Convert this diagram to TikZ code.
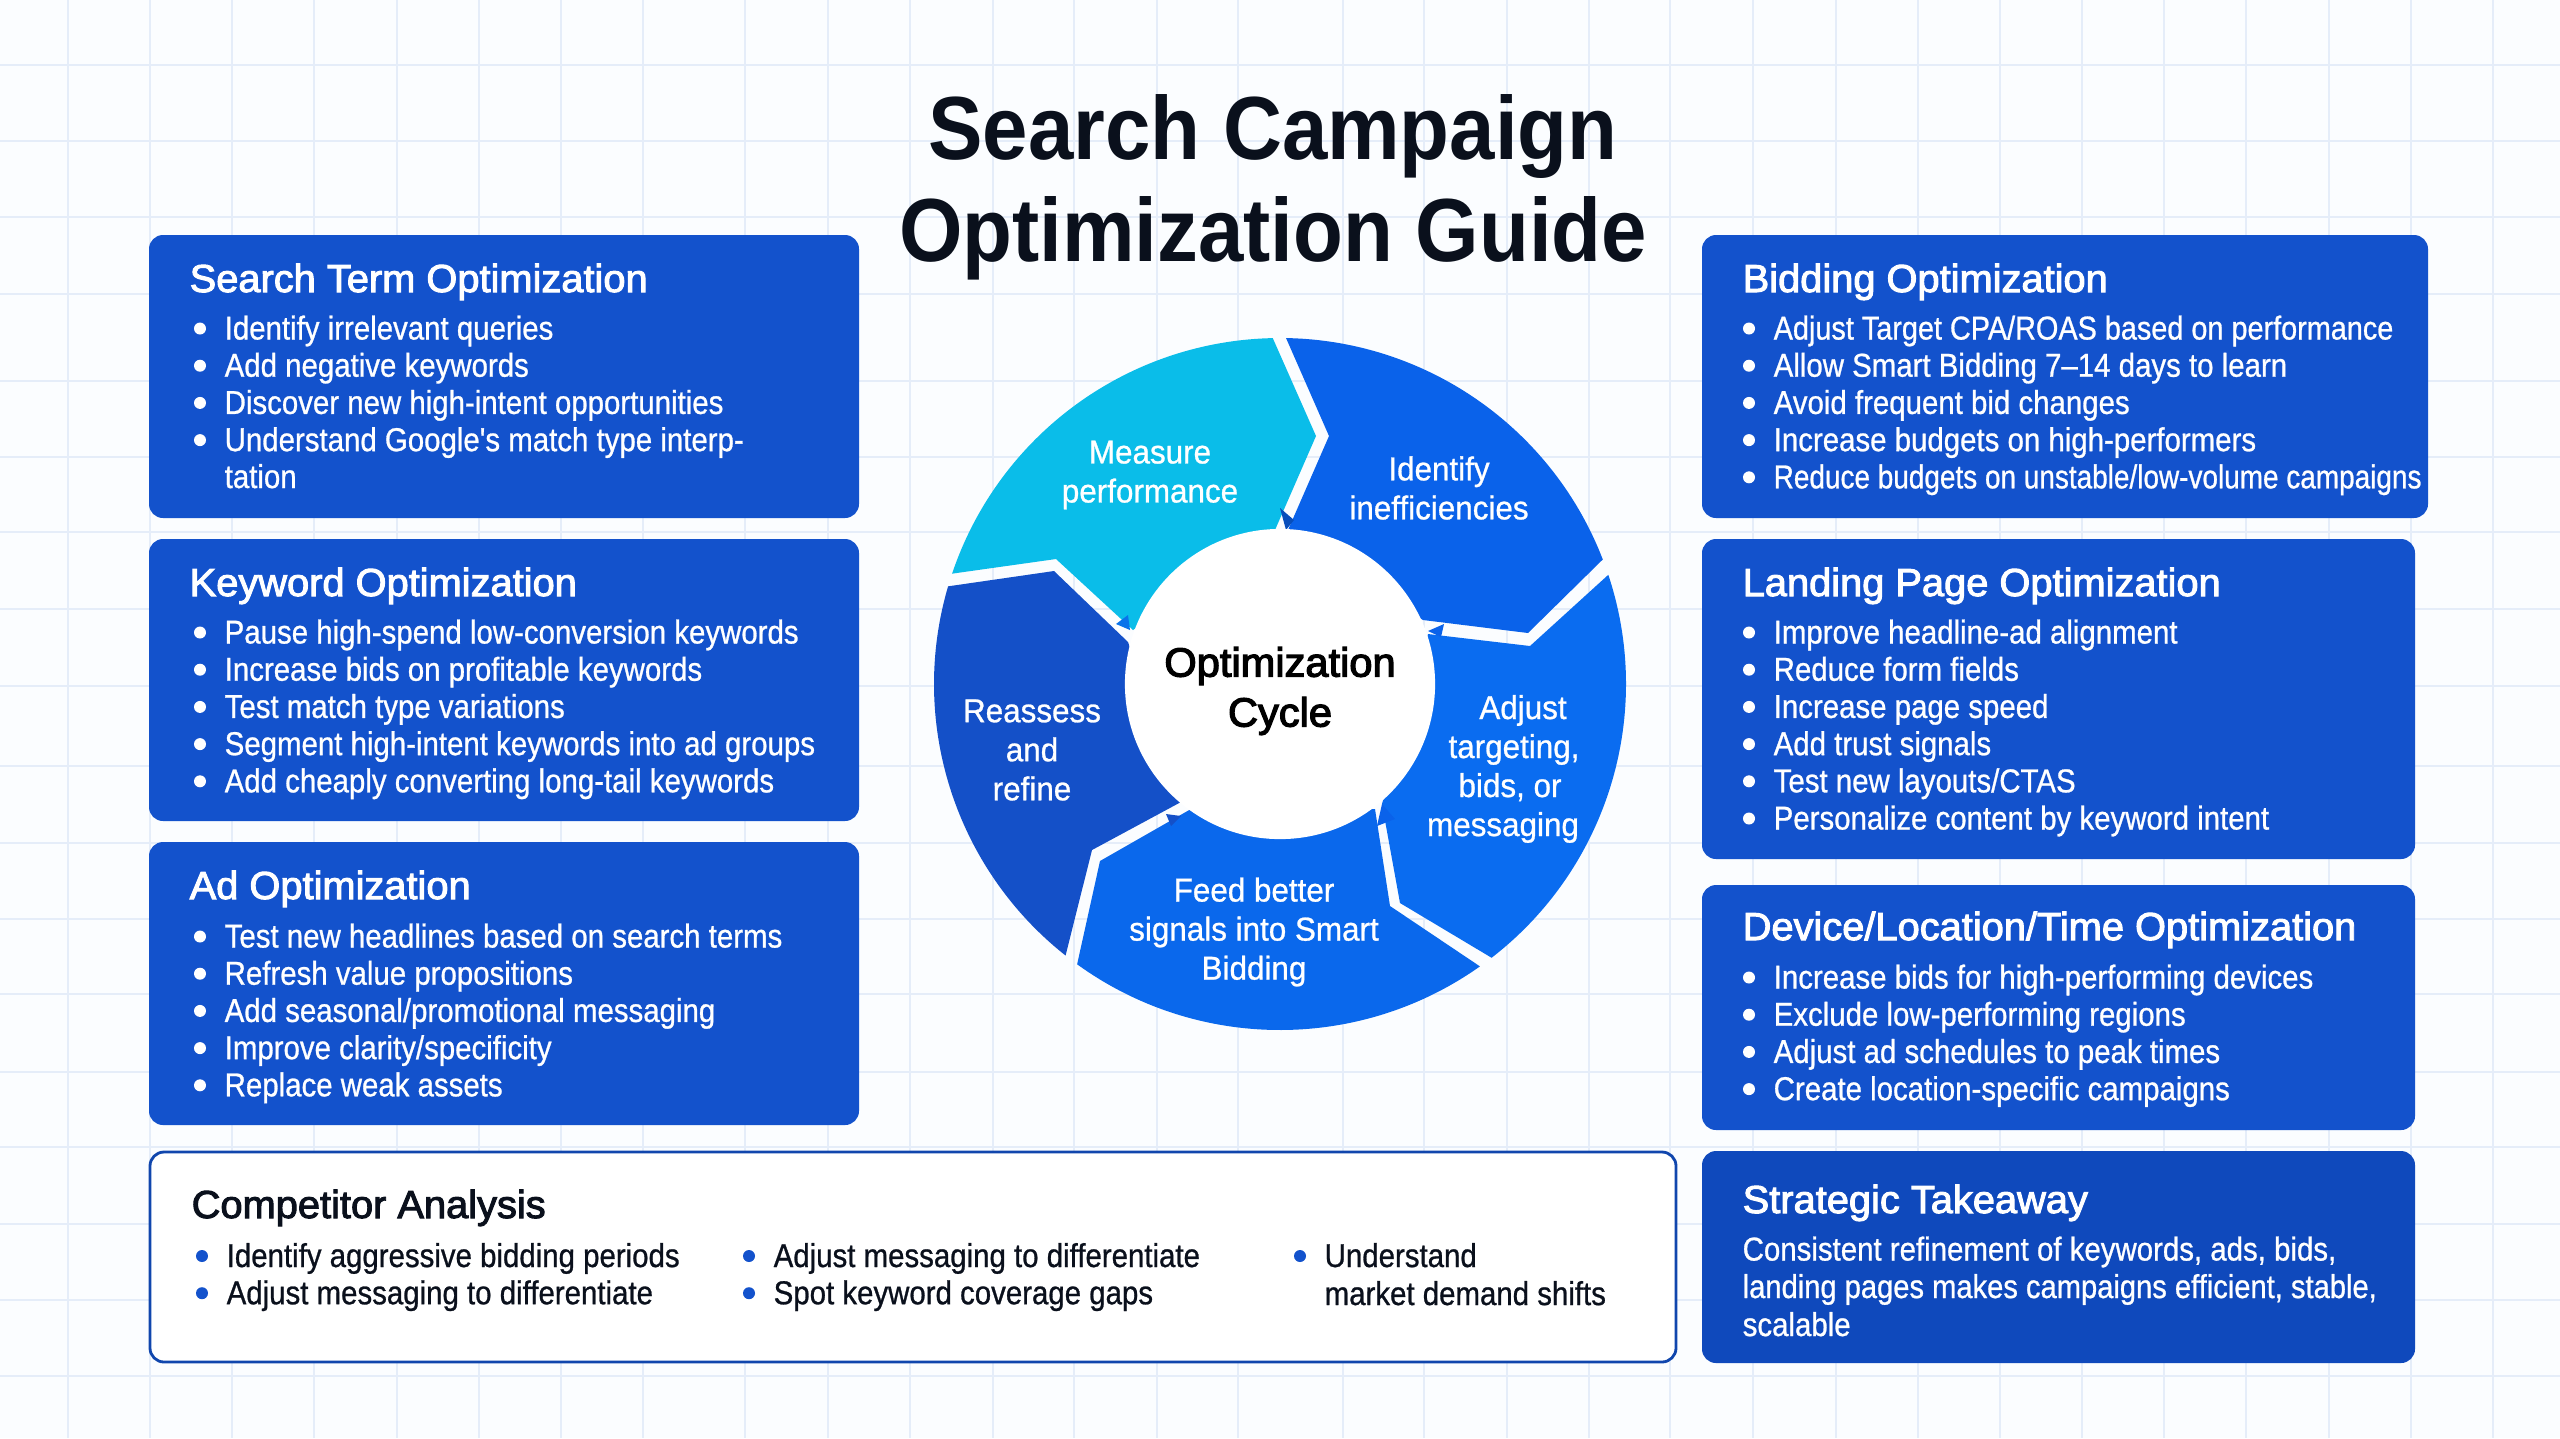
\documentclass[tikz,border=0pt]{standalone}
\usepackage{fontspec}
\usepackage{graphicx}
\setmainfont{Liberation Sans}
\newfontfamily\listfont[FakeStretch=0.89,FakeBold=0.8]{Liberation Sans}
\newfontfamily\wheelfont[FakeStretch=0.95,FakeBold=0.8]{Liberation Sans}
\newfontfamily\headfont[FakeStretch=1.02,FakeBold=2.5]{Liberation Sans}
\newfontfamily\hubfont[FakeStretch=1.02,FakeBold=3]{Liberation Sans}
\newfontfamily\titlefont[FakeStretch=0.91]{Liberation Sans Bold}
\usetikzlibrary{positioning}

\definecolor{pagebg}{HTML}{FBFDFF}
\definecolor{gridline}{HTML}{E5EDF9}
\definecolor{cardblue}{HTML}{1352CC}
\definecolor{takeblue}{HTML}{0F49BC}
\definecolor{inkdark}{HTML}{0A101C}
\definecolor{measurecol}{HTML}{0ABDE9}
\definecolor{identifycol}{HTML}{0A62EA}
\definecolor{adjustcol}{HTML}{0A6CF0}
\definecolor{feedcol}{HTML}{0A68EC}
\definecolor{reassesscol}{HTML}{1450C8}

\tikzset{
  card/.style={fill=cardblue, rounded corners=1.4mm},
  cardhead/.style={anchor=base west, inner sep=0pt, text=white, font=\headfont\fontsize{11.1}{13}\selectfont},
  cardline/.style={anchor=base west, inner sep=0pt, text=white, font=\listfont\fontsize{9.4}{11}\selectfont},
  titleline/.style={inner sep=0pt, anchor=base, text=inkdark, font=\titlefont\fontsize{25.5}{29}\selectfont},
  seglabel/.style={align=center, inner sep=0pt, text=white, font=\wheelfont\fontsize{9.4}{11.1}\selectfont},
  segline/.style={anchor=base, inner sep=0pt, text=white, font=\wheelfont\fontsize{9.4}{11.1}\selectfont},
}

% name, bullet colour, x of text, y of first baseline, lines
\newcommand{\cardlines}[5]{
  \foreach \linetext [count=\i from 0] in {#5} {
    \node[cardline] (#1-\i) at (#3, #4+37.2*\i) {\linetext};
    \fill[#2] (#3-24, #4-11+37.2*\i) circle (6);
  }
}

\begin{document}
\begin{tikzpicture}[x=0.01cm, y=0.01cm, yscale=-1]
  \useasboundingbox (0,0) rectangle (2560,1438);
  \fill[pagebg] (0,0) rectangle (2560,1438);
  % grid
  \foreach \gx in {68,150,232,314,397,479,561,643,745,828,910,993,1074,1157,1238,1343,1424,1507,1589,1670,1753,1836,1918,2000,2082,2164,2246,2329,2411,2493}
    \draw[gridline, line width=0.5pt] (\gx,0) -- (\gx,1438);
  \foreach \gy in {65,141,217,294,381,457,532,609,686,766,843,919,994,1072,1147,1224,1300,1376}
    \draw[gridline, line width=0.5pt] (0,\gy) -- (2560,\gy);

  % title
  \node[titleline] (title1) at (1273,159) {Search Campaign};
  \node[titleline] (title2) at (1273,261) {Optimization Guide};

  % left column
  \fill[card] (149,235) rectangle (859,518);
  \node[cardhead] (searchterm) at (189,292) {Search Term Optimization};
  \cardlines{st}{white}{224}{339.5}{Identify irrelevant queries, Add negative keywords, Discover new high-intent opportunities, Understand Google's match type interp-}
  \node[cardline] (st-tail) at (224,488) {tation};

  \fill[card] (149,539) rectangle (859,821);
  \node[cardhead] (keyword) at (189,596) {Keyword Optimization};
  \cardlines{kw}{white}{224}{643.5}{Pause high-spend low-conversion keywords, Increase bids on profitable keywords, Test match type variations, Segment high-intent keywords into ad groups, Add cheaply converting long-tail keywords}

  \fill[card] (149,842) rectangle (859,1125);
  \node[cardhead] (adopt) at (189,899) {Ad Optimization};
  \cardlines{ad}{white}{224}{947.5}{Test new headlines based on search terms, Refresh value propositions, Add seasonal/promotional messaging, Improve clarity/specificity, Replace weak assets}

  % right column
  \fill[card] (1702,235) rectangle (2428,518);
  \node[cardhead] (bidding) at (1742,292) {Bidding Optimization};
  \cardlines{bd}{white}{1773}{339.5}{\scalebox{0.98}[1]{Adjust Target CPA/ROAS based on performance}, Allow Smart Bidding 7–14 days to learn, Avoid frequent bid changes, Increase budgets on high-performers, \scalebox{0.95}[1]{Reduce budgets on unstable/low-volume campaigns}}

  \fill[card] (1702,539) rectangle (2415,859);
  \node[cardhead] (landing) at (1742,596) {Landing Page Optimization};
  \cardlines{lp}{white}{1773}{643.5}{Improve headline-ad alignment, Reduce form fields, Increase page speed, Add trust signals, Test new layouts/CTAS, Personalize content by keyword intent}

  \fill[card] (1702,885) rectangle (2415,1130);
  \node[cardhead] (device) at (1742,940) {Device/Location/Time Optimization};
  \cardlines{dv}{white}{1773}{988.5}{Increase bids for high-performing devices, Exclude low-performing regions, Adjust ad schedules to peak times, Create location-specific campaigns}

  \fill[card, fill=takeblue] (1702,1151) rectangle (2415,1363);
  \node[cardhead] (takeaway) at (1742,1213) {Strategic Takeaway};
  \node[cardline] (take1) at (1742,1260.5) {Consistent refinement of keywords, ads, bids,};
  \node[cardline] (take2) at (1742,1298) {\scalebox{0.99}[1]{landing pages makes campaigns efficient, stable,}};
  \node[cardline] (take3) at (1742,1336) {scalable};

  % competitor box
  \draw[draw=cardblue!85!black, line width=0.8pt, fill=white, rounded corners=1.4mm] (150,1152) rectangle (1676,1362);
  \node[cardhead, text=inkdark] (competitor) at (191,1218) {Competitor Analysis};
  \tikzset{cardline/.append style={text=inkdark}}
  \cardlines{ca}{cardblue}{226}{1267}{Identify aggressive bidding periods, Adjust messaging to differentiate}
  \cardlines{cb}{cardblue}{773}{1267}{Adjust messaging to differentiate, Spot keyword coverage gaps}
  \cardlines{cc}{cardblue}{1324}{1267}{Understand}
  \node[cardline] (cc-tail) at (1324,1305) {market demand shifts};

  % cycle
  \coordinate (wheel) at (1280,684);
  \fill[measurecol] (wheel) ++(198.6:346) arc[start angle=198.6, end angle=268.8, radius=346]
    -- (1316,436) -- (1275,530) -- (1133,630) -- (1056,559) -- cycle;
  \fill[identifycol] (wheel) ++(271:346) arc[start angle=271, end angle=338.9, radius=346]
    -- (1528,633) -- (1423,620) -- (1288,530) -- (1329,436) -- cycle;
  \fill[adjustcol] (wheel) ++(341.6:346) arc[start angle=341.6, end angle=412.3, radius=346]
    -- (1400,903) -- (1382,804) -- (1428,634) -- (1530,646) -- cycle;
  \fill[feedcol] (wheel) ++(54.7:346) arc[start angle=54.7, end angle=125.9, radius=346]
    -- (1100,861) -- (1191,809) -- (1375,809) -- (1390,906) -- cycle;
  \fill[reassesscol] (wheel) ++(128.3:346) arc[start angle=128.3, end angle=196.4, radius=346]
    -- (1054,571) -- (1128,642) -- (1181,802) -- (1092,850) -- cycle;

  % small tips at the hub
  \fill[identifycol!80!black] (1280,508) -- (1294,520) -- (1286,530) -- cycle;
  \fill[identifycol!80!measurecol] (1116,624) -- (1128,615) -- (1130,630) -- cycle;
  \fill[identifycol] (1428,631) -- (1444,624) -- (1441,637) -- cycle;
  \fill[identifycol] (1382,804) -- (1395,819) -- (1377,826) -- cycle;
  \fill[reassesscol] (1181,816) -- (1166,814) -- (1171,826) -- cycle;

  \node[circle, fill=white, minimum size=3.1cm, inner sep=0pt] (hub) at (wheel) {};
  \node[align=center, inner sep=0pt, text=black, font=\hubfont\fontsize{11.6}{14.2}\selectfont] (hubtext) at (1280,691) {Optimization\\Cycle};

  \node[seglabel] (measure) at (1150,475) {Measure\\performance};
  \node[seglabel] (identify) at (1439,488) {Identify\\inefficiencies};
  \node[segline] (adjust1) at (1523,719) {Adjust};
  \node[segline] (adjust2) at (1514,758) {targeting,};
  \node[segline] (adjust3) at (1510,797) {bids, or};
  \node[segline] (adjust4) at (1503,836) {messaging};
  \node[seglabel] (feed) at (1254,932) {Feed better\\signals into Smart\\Bidding};
  \node[seglabel] (reassess) at (1032,750) {Reassess\\and\\refine};
\end{tikzpicture}
\end{document}
